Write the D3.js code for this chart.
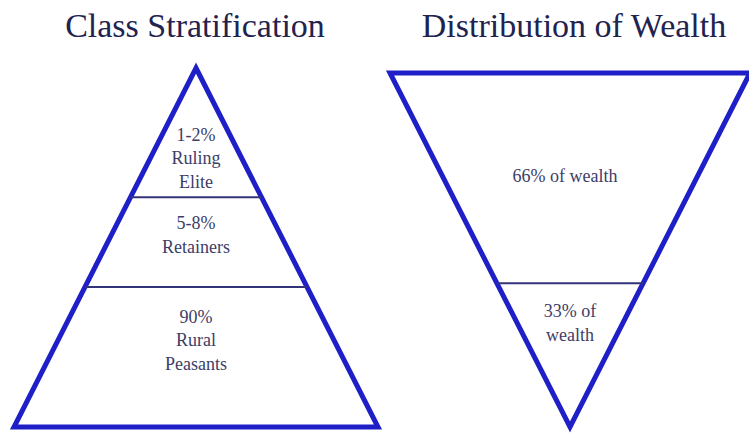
<!DOCTYPE html>
<html><head><meta charset="utf-8">
<script src="https://cdn.jsdelivr.net/npm/d3@7"></script>
<style>html,body{margin:0;padding:0;background:#fff;}svg{display:block;}</style>
</head><body>
<svg id="c" width="749" height="434" font-family="Liberation Serif"></svg>
<script>
const titles = ["Class Stratification", "Distribution of Wealth"];
const classLabels = [["1-2%", "Ruling", "Elite"], ["5-8%", "Retainers"], ["90%", "Rural", "Peasants"]];
const classBreaks = [0.36, 0.61];
const wealthLabels = [["66% of wealth"], ["33% of", "wealth"]];
const wealthBreaks = [0.594];

const svg = d3.select("#c");
const FONT = '"Liberation Serif"';
const blue = "#1f1fc8", navy = "#33337a", textCol = "#3d3d68";

function drawShape(cfg) {
  const y = d3.scaleLinear().domain([0, 1]).range([cfg.top, cfg.bottom]);
  const hw = d3.scaleLinear().domain([0, 1]).range(cfg.inverted ? [cfg.halfW, 0] : [0, cfg.halfW]);
  const pts = cfg.inverted
    ? [[cfg.cx - cfg.halfW, cfg.top], [cfg.cx + cfg.halfW, cfg.top], [cfg.cx, cfg.bottom]]
    : [[cfg.cx, cfg.top], [cfg.cx + cfg.halfW, cfg.bottom], [cfg.cx - cfg.halfW, cfg.bottom]];
  svg.append("path")
    .attr("d", d3.line()(pts) + "Z")
    .attr("fill", "#fff").attr("stroke", blue).attr("stroke-width", 5)
    .attr("stroke-linejoin", "miter");
  cfg.breaks.forEach(d => {
    svg.append("line")
      .attr("x1", cfg.cx - hw(d)).attr("x2", cfg.cx + hw(d))
      .attr("y1", y(d)).attr("y2", y(d))
      .attr("stroke", navy).attr("stroke-width", 2);
  });
}
function drawText(cfg) {
  cfg.labels.forEach((lines, i) => {
    const lh = 23.5;
    const startY = cfg.labelY[i] - (lines.length - 1) * lh / 2;
    const x = cfg.cx + (cfg.labelDx ? cfg.labelDx[i] : 0);
    svg.append("text")
      .attr("x", x).attr("y", startY + 6)
      .attr("text-anchor", "middle")
      .style("font-family", FONT)
      .attr("font-size", 18)
      .style("fill", textCol)
      .selectAll("tspan").data(lines).join("tspan")
      .attr("x", x)
      .attr("y", (d, j) => startY + j * lh + 6)
      .text(d => d);
  });
  svg.append("text")
    .attr("x", cfg.titleX).attr("y", 37)
    .attr("text-anchor", "middle")
    .style("font-family", FONT)
    .attr("font-size", 34)
    .style("fill", "#22224f")
    .text(cfg.title);
}

const left = {
  title: titles[0], titleX: 195,
  cx: 196, top: 68, bottom: 427, halfW: 182, inverted: false,
  breaks: classBreaks, labels: classLabels, labelY: [158, 235, 340]
};
const right = {
  title: titles[1], titleX: 574,
  cx: 570, top: 73, bottom: 427, halfW: 180, inverted: true,
  breaks: wealthBreaks, labels: wealthLabels, labelY: [176, 323], labelDx: [-5, 0]
};
drawShape(left); drawShape(right);
drawText(left); drawText(right);
</script>
</body></html>
